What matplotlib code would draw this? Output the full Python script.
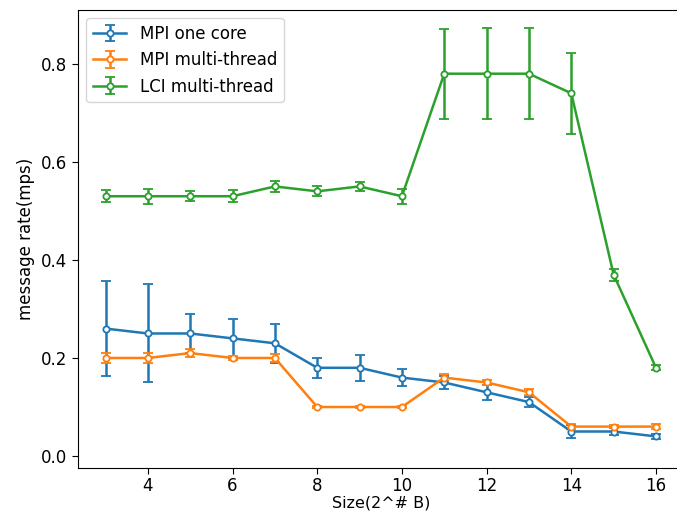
import numpy as np
import matplotlib
matplotlib.use('Agg')
import matplotlib.pyplot as plt

# message sizes (log2 bytes)
sizes = [3, 4, 5, 6, 7, 8, 9, 10, 11, 12, 13, 14, 15, 16]

mpi_one = [0.26, 0.25, 0.25, 0.24, 0.23, 0.18, 0.18, 0.16, 0.15, 0.13, 0.11, 0.05, 0.05, 0.04]
mpi_one_err = [0.097, 0.10, 0.04, 0.04, 0.04, 0.02, 0.026, 0.017, 0.013, 0.015, 0.01, 0.014, 0.008, 0.005]

mpi_mt = [0.20, 0.20, 0.21, 0.20, 0.20, 0.10, 0.10, 0.10, 0.16, 0.15, 0.13, 0.06, 0.06, 0.06]
mpi_mt_err = [0.01, 0.01, 0.008, 0.004, 0.008, 0.002, 0.002, 0.002, 0.007, 0.005, 0.006, 0.005, 0.003, 0.005]

lci_mt = [0.53, 0.53, 0.53, 0.53, 0.55, 0.54, 0.55, 0.53, 0.78, 0.78, 0.78, 0.74, 0.37, 0.18]
lci_mt_err = [0.012, 0.015, 0.01, 0.012, 0.012, 0.01, 0.01, 0.015, 0.092, 0.093, 0.093, 0.083, 0.012, 0.005]

plt.rcParams['font.size'] = 12
plt.rcParams['xtick.major.size'] = 4.2
plt.rcParams['ytick.major.size'] = 4.2
plt.rcParams['xtick.major.pad'] = 2.5

fig = plt.figure(figsize=(6.77, 5.12), dpi=100)
# figure in the reference is cropped at top and right
ax = fig.add_axes([0.1152, 0.0859, 0.8944, 0.8946])

series = [
    (mpi_one, mpi_one_err, 'MPI one core', '#1f77b4'),
    (mpi_mt, mpi_mt_err, 'MPI multi-thread', '#ff7f0e'),
    (lci_mt, lci_mt_err, 'LCI multi-thread', '#2ca02c'),
]
for vals, errs, label, color in series:
    ax.errorbar(sizes, vals, yerr=errs, color=color, label=label,
                marker='o', markersize=4.5, markerfacecolor='white',
                markeredgewidth=1.3, linewidth=1.8, capsize=3.4,
                elinewidth=1.8, capthick=1.8)

ax.set_xlim(2.35, 16.65)
ax.set_ylim(-0.0245, 0.91)
ax.set_xlabel("Size(2^# B)", labelpad=0, fontsize=11.5)
ax.set_ylabel("message rate(mps)")
ax.legend(loc='upper left')

plt.savefig("out.png", dpi=100)
plt.close()
